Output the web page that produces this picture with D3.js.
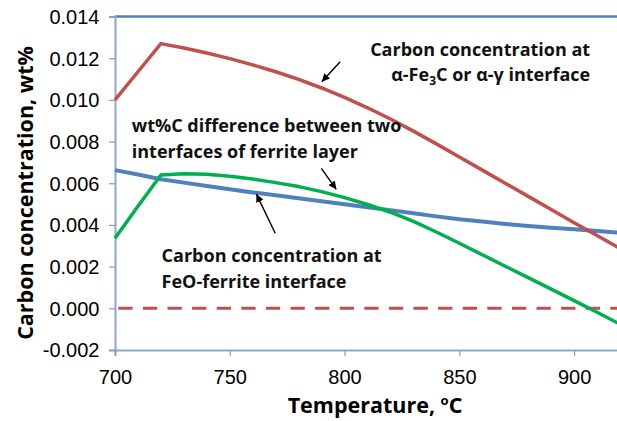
<!DOCTYPE html>
<html>
<head>
<meta charset="utf-8">
<script src="https://cdn.jsdelivr.net/npm/d3@7"></script>
<style>
  html, body { margin: 0; padding: 0; background: #fff; }
  svg { display: block; font-family: "Open Sans", "Noto Sans", sans-serif; }
</style>
</head>
<body>
<svg id="chart" width="617" height="421"></svg>
<script>
// Temperature (°C) at which each concentration was evaluated
const temperatures = [700, 710, 720, 730, 740, 750, 760, 770, 780, 790, 800, 810,
                      820, 830, 840, 850, 860, 870, 880, 890, 900, 910, 920];
// Carbon concentration at the α-Fe3C or α-γ interface (wt%)
const carbideInterface = [0.0100, 0.01135, 0.0127, 0.01249, 0.01225, 0.01198, 0.01168, 0.01135,
                          0.01098, 0.01057, 0.01012, 0.00962, 0.00908, 0.0085, 0.00789, 0.00726,
                          0.00663, 0.006, 0.00537, 0.00474, 0.00411, 0.00349, 0.00287];
// Carbon concentration at the FeO-ferrite interface (wt%)
const oxideInterface = [0.00663, 0.00642, 0.00619, 0.00603, 0.00587, 0.00571, 0.00556, 0.00542,
                        0.00528, 0.00514, 0.00499, 0.00485, 0.00471, 0.00456, 0.00441, 0.00427,
                        0.00416, 0.00405, 0.00395, 0.00386, 0.00379, 0.00371, 0.00363];
// wt%C difference between the two interfaces of the ferrite layer
const difference = [0.00336, 0.0049, 0.0064, 0.00645, 0.00643, 0.00634, 0.0062, 0.00603,
                    0.00584, 0.0056, 0.00531, 0.00498, 0.00461, 0.00417, 0.00366, 0.00312,
                    0.00257, 0.00202, 0.00147, 0.00092, 0.00037, -0.00019, -0.00076];
// Zero reference
const zeroTemps = [700, 920];
const zeroValues = [0, 0];

const xTicks = [700, 750, 800, 850, 900];
const yTicks = [-0.002, 0, 0.002, 0.004, 0.006, 0.008, 0.010, 0.012, 0.014];

const svg = d3.select("#chart");
const plotLeft = 115, plotRight = 620, plotTop = 16.5, plotBottom = 350;

const x = d3.scaleLinear().domain([700, 920]).range([plotLeft, plotRight]);
const y = d3.scaleLinear().domain([-0.002, 0.014]).range([plotBottom, plotTop]);

const axisColor = "#8EA6CB";

// plot-area frame
svg.append("line")
  .attr("x1", plotLeft).attr("x2", 617).attr("y1", plotTop).attr("y2", plotTop)
  .attr("stroke", "#4F81BD").attr("stroke-width", 2.5);

// y axis
const yAxis = svg.append("g")
  .attr("transform", `translate(${plotLeft},0)`)
  .call(d3.axisLeft(y).tickValues(yTicks).tickSize(6).tickPadding(9)
    .tickFormat(d => d3.format(".3f")(d).replace("−", "-")));
yAxis.select(".domain").attr("stroke", axisColor).attr("stroke-width", 2);
yAxis.selectAll(".tick line").attr("stroke", "#8C9BB0").attr("stroke-width", 1.2);
yAxis.selectAll(".tick text")
  .attr("font-size", 20).attr("fill", "#000").attr("dy", "0.34em")
  .attr("x", -15.5);

// x axis
const xAxis = svg.append("g")
  .attr("transform", `translate(0,${plotBottom})`)
  .call(d3.axisBottom(x).tickValues(xTicks).tickSize(6).tickPadding(8).tickFormat(d3.format("d")));
xAxis.select(".domain").attr("stroke", axisColor).attr("stroke-width", 2);
xAxis.selectAll(".tick line").attr("stroke", "#8C9BB0").attr("stroke-width", 1.2);
xAxis.selectAll(".tick text")
  .attr("font-size", 20).attr("fill", "#000")
  .attr("dy", null).attr("y", 33.5);

// series
const line = d3.line().x(d => x(d[0])).y(d => y(d[1]));
const pairs = vals => temperatures.map((t, i) => [t, vals[i]]);

svg.append("path")
  .datum(zeroTemps.map((t, i) => [t, zeroValues[i]]))
  .attr("d", line).attr("fill", "none")
  .attr("stroke", "#C0504D").attr("stroke-width", 3)
  .attr("stroke-dasharray", "14.3,10.3").attr("stroke-dashoffset", 21.3);

svg.append("path").datum(pairs(oxideInterface))
  .attr("d", line).attr("fill", "none")
  .attr("stroke", "#4F81BD").attr("stroke-width", 4).attr("stroke-linejoin", "round");

svg.append("path").datum(pairs(difference))
  .attr("d", line).attr("fill", "none")
  .attr("stroke", "#00B050").attr("stroke-width", 3.5).attr("stroke-linejoin", "round");

svg.append("path").datum(pairs(carbideInterface))
  .attr("d", line).attr("fill", "none")
  .attr("stroke", "#C0504D").attr("stroke-width", 3.5).attr("stroke-linejoin", "round");

// axis titles
svg.append("text")
  .attr("x", 375).attr("y", 413)
  .attr("text-anchor", "middle").attr("font-size", 21.5).attr("font-weight", "bold")
  .call(t => {
    t.append("tspan").text("Temperature, ");
    t.append("tspan").text("o").attr("font-size", 13).attr("dy", -8);
    t.append("tspan").text("C").attr("dy", 8);
  });

svg.append("text")
  .attr("transform", "translate(33,193) rotate(-90)")
  .attr("text-anchor", "middle").attr("font-size", 21.5).attr("font-weight", "bold")
  .text("Carbon concentration, wt%");

// annotations
const defs = svg.append("defs");
defs.append("marker")
  .attr("id", "head").attr("viewBox", "0 0 10 10")
  .attr("refX", 10).attr("refY", 5)
  .attr("markerWidth", 8).attr("markerHeight", 8)
  .attr("markerUnits", "userSpaceOnUse")
  .attr("orient", "auto")
  .append("path").attr("d", "M0,0 L10,5 L0,10 Z").attr("fill", "#000");

const arrows = [
  { from: [798.1, 0.01183], to: [790.1, 0.01087] },
  { from: [789.9, 0.00671], to: [796.4, 0.00571] },
  { from: [769.8, 0.00360], to: [761.6, 0.00548] }
];
arrows.forEach(a => {
  svg.append("line")
    .attr("x1", x(a.from[0])).attr("y1", y(a.from[1]))
    .attr("x2", x(a.to[0])).attr("y2", y(a.to[1]))
    .attr("stroke", "#000").attr("stroke-width", 1.4)
    .attr("marker-end", "url(#head)");
});

const noteSize = 18;
function note(tx, ty, anchor) {
  return svg.append("text")
    .attr("x", x(tx)).attr("y", y(ty))
    .attr("text-anchor", anchor)
    .attr("font-size", noteSize).attr("font-weight", "bold").attr("fill", "#111");
}

note(907, 0.0121, "end").text("Carbon concentration at");
note(907, 0.01091, "end").call(t => {
  t.append("tspan").text("α-Fe");
  t.append("tspan").text("3").attr("font-size", 12).attr("dy", 4);
  t.append("tspan").text("C or α-γ interface").attr("dy", -4);
});

note(707.3, 0.00847, "start").text("wt%C difference between two");
note(707.3, 0.00719, "start").text("interfaces of ferrite layer");

note(720.3, 0.00223, "start").text("Carbon concentration at");
note(720.3, 0.00096, "start").text("FeO-ferrite interface");
</script>
</body>
</html>
